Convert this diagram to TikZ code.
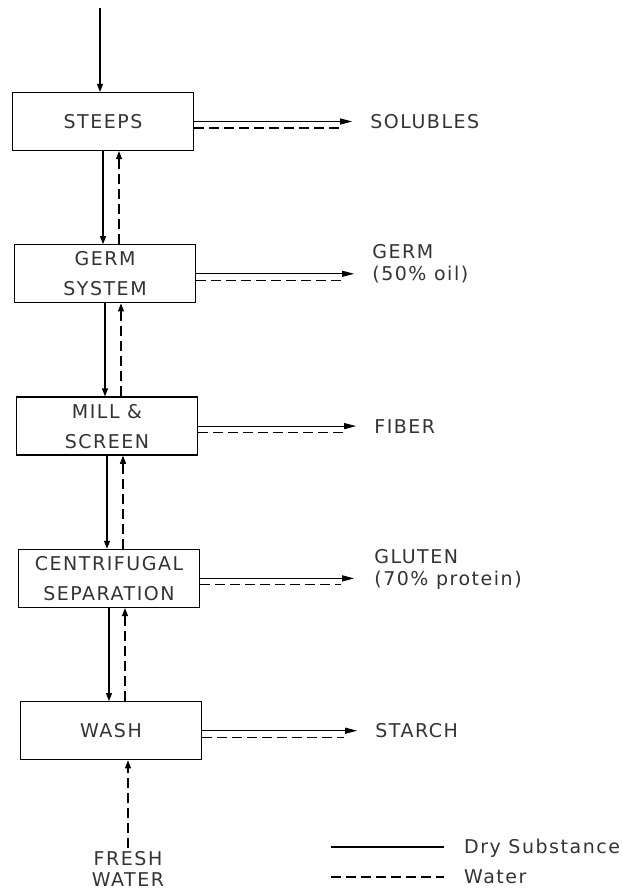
\documentclass[tikz,border=0pt]{standalone}
\usepackage{fontspec}
\setmainfont{DejaVu Sans}[LetterSpace=8]
\usepackage{tikz}
\usetikzlibrary{arrows.meta,positioning}

\newcommand{\unitfont}{\fontsize{19}{30}\selectfont}
\newcommand{\prodfont}{\fontsize{19}{22}\selectfont}

\begin{document}
\begin{tikzpicture}[
  x=1pt, y=-1pt,
  node distance=93pt,
  unit/.style={
    draw, line width=1.3pt, minimum width=181pt, minimum height=58pt,
    inner sep=0pt, align=center, font=\unitfont, text=black!80
  },
  prod/.style={inner sep=0pt, align=left, anchor=base west, font=\prodfont, text=black!80},
  dry/.style={line width=1.1pt},
  wet/.style={line width=1.1pt, dash pattern=on 10pt off 5pt},
  vtip/.style={-{Triangle[length=8pt,width=6pt]}},
  htip/.style={-{Triangle[length=12pt,width=6pt]}}
]
\useasboundingbox (0,0) rectangle (622,894);

% Process units
\node[unit] (steeps) at (103,121.5) {STEEPS};
\node[unit, below=of steeps, xshift=2pt] (germ) {GERM\\SYSTEM};
\node[unit, below=of germ, xshift=2pt] (mill) {MILL \&\\SCREEN};
\node[unit, below=of mill, xshift=2pt] (centri) {CENTRIFUGAL\\SEPARATION};
\node[unit, below=of centri, xshift=2pt] (wash) {WASH};

% Products
\node[prod] (solubles) at ([xshift=176pt, yshift=-7pt]steeps.east) {SOLUBLES};
\node[prod] (germout) at ([xshift=176pt, yshift=-7pt]germ.east) {GERM\\(50\% oil)};
\node[prod] (fiber) at ([xshift=176pt, yshift=-7pt]mill.east) {FIBER};
\node[prod] (gluten) at ([xshift=174pt, yshift=-7pt]centri.east) {GLUTEN\\(70\% protein)};
\node[prod] (starch) at ([xshift=173pt, yshift=-7pt]wash.east) {STARCH};

% Fresh water feed
\node[inner sep=0pt, align=center, anchor=north, text=black!80,
  font=\fontsize{19}{21}\selectfont] (fresh) at (128,851) {FRESH\\WATER};
\coordinate (feed) at (100,8);

% Legend
\node[prod] (drylbl) at (464,853.5) {Dry Substance};
\node[prod] (wetlbl) at (464,883) {Water};
\coordinate (drykey) at (331,847);
\coordinate (wetkey) at (331,877);

% Corn in
\draw[dry, vtip] (feed) -- (feed |- steeps.north);

% Dry substance down, water up
\draw[dry, vtip] (steeps.south) -- (steeps.south |- germ.north);
\draw[wet, vtip] ([xshift=14pt]germ.north) -- ([xshift=14pt]germ.north |- steeps.south);
\draw[dry, vtip] (germ.south) -- (germ.south |- mill.north);
\draw[wet, vtip] ([xshift=14pt]mill.north) -- ([xshift=14pt]mill.north |- germ.south);
\draw[dry, vtip] (mill.south) -- (mill.south |- centri.north);
\draw[wet, vtip] ([xshift=14pt]centri.north) -- ([xshift=14pt]centri.north |- mill.south);
\draw[dry, vtip] (centri.south) -- (centri.south |- wash.north);
\draw[wet, vtip] ([xshift=14pt]wash.north) -- ([xshift=14pt]wash.north |- centri.south);
\draw[wet, vtip, shorten <=3pt] (fresh.north) -- (fresh.north |- wash.south);

% Product streams
\draw[dry, htip, shorten >=18pt] (steeps.east) -- (steeps.east -| solubles.west);
\draw[wet, shorten >=31pt] ([yshift=-6.5pt]steeps.east) -- ([yshift=-6.5pt]steeps.east -| solubles.west);
\draw[dry, htip, shorten >=18pt] (germ.east) -- (germ.east -| germout.west);
\draw[wet, shorten >=31pt] ([yshift=-6.5pt]germ.east) -- ([yshift=-6.5pt]germ.east -| germout.west);
\draw[dry, htip, shorten >=18pt] (mill.east) -- (mill.east -| fiber.west);
\draw[wet, shorten >=31pt] ([yshift=-6.5pt]mill.east) -- ([yshift=-6.5pt]mill.east -| fiber.west);
\draw[dry, htip, shorten >=20pt] (centri.east) -- (centri.east -| gluten.west);
\draw[wet, shorten >=33pt] ([yshift=-6.5pt]centri.east) -- ([yshift=-6.5pt]centri.east -| gluten.west);
\draw[dry, htip, shorten >=18pt] (wash.east) -- (wash.east -| starch.west);
\draw[wet, shorten >=31pt] ([yshift=-6.5pt]wash.east) -- ([yshift=-6.5pt]wash.east -| starch.west);

% Legend keys
\draw[dry, shorten >=20pt] (drykey) -- (drykey -| drylbl.west);
\draw[wet, shorten >=20pt] (wetkey) -- (wetkey -| wetlbl.west);

\end{tikzpicture}
\end{document}
